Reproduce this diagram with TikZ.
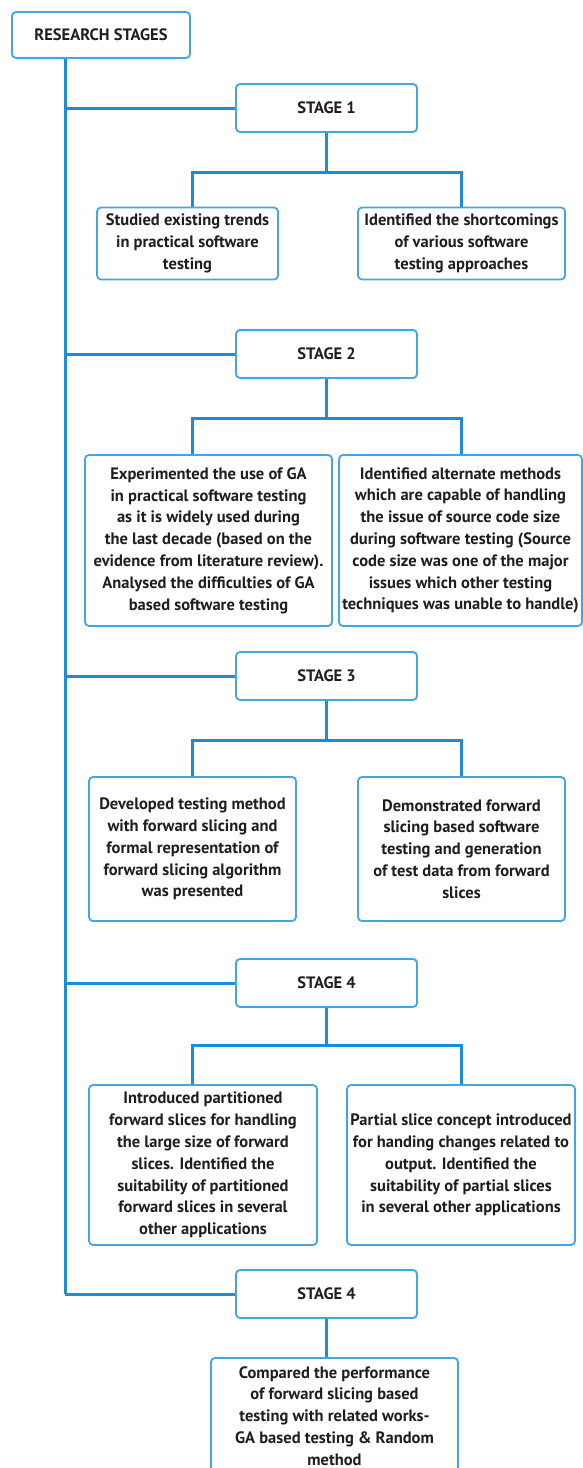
\documentclass[tikz,border=0pt]{standalone}
\usepackage{fontspec}
\setmainfont{PT Sans}
\definecolor{linkblue}{HTML}{1A8CD8}
\definecolor{boxblue}{HTML}{45A5E0}
\definecolor{ink}{HTML}{1E1E1E}
\begin{document}
\begin{tikzpicture}[x=1pt,y=-1pt,
  box/.style={draw=boxblue,line width=1.8pt,rounded corners=4pt,fill=white,
    align=center,inner sep=0pt,text=ink,
    font=\fontsize{16.5}{21.8}\selectfont\bfseries},
  stagebox/.style={box,minimum width=181pt,minimum height=48pt},
  conn/.style={draw=linkblue,line width=3pt}]
\useasboundingbox (0,0) rectangle (583,1468);

% header and stage boxes
\node[box,minimum width=178pt,minimum height=46pt] (rs) at (101,35) {RESEARCH STAGES};
\node[stagebox] (s1) at (326.5,108) {STAGE 1};
\node[stagebox] (s2) at (326.5,354) {STAGE 2};
\node[stagebox] (s3) at (326.5,676) {STAGE 3};
\node[stagebox] (s4) at (326.5,983) {STAGE 4};
\node[stagebox] (s5) at (326.5,1294) {STAGE 4};

% stage 1 outcomes
\node[box,minimum width=181pt,minimum height=72pt] (b1a) at (187.5,243.5)
  {Studied existing trends\\in practical software\\testing};
\node[box,minimum width=207pt,minimum height=72pt] (b1b) at (461.5,243.5)
  {Identified the shortcomings\\of various software\\testing approaches};

% stage 2 outcomes
\node[box,minimum width=247pt,minimum height=171pt] (b2a) at (208.5,540.5)
  {Experimented the use of GA\\in practical software testing\\as it is widely used during\\the last decade (based on the\\evidence from literature review).\\Analysed the difficulties of GA\\based software testing};
\node[box,minimum width=243pt,minimum height=171pt] (b2b) at (460.5,540.5)
  {Identified alternate methods\\which are capable of handling\\the issue of source code size\\during software testing (Source\\code size was one of the major\\issues which other testing\\techniques was unable to handle)};

% stage 3 outcomes
\node[box,minimum width=207pt,minimum height=144pt] (b3a) at (192.5,849)
  {Developed testing method\\with forward slicing and\\formal representation of\\forward slicing algorithm\\was presented};
\node[box,minimum width=207pt,minimum height=144pt] (b3b) at (461.5,849)
  {Demonstrated forward\\slicing based software\\testing and generation\\of test data from forward\\slices};

% stage 4 outcomes
\node[box,minimum width=228pt,minimum height=160pt] (b4a) at (203,1165)
  {Introduced partitioned\\forward slices for handling\\the large size of forward\\slices. Identified the\\suitability of partitioned\\forward slices in several\\other applications};
\node[box,minimum width=228pt,minimum height=160pt] (b4b) at (461,1165)
  {Partial slice concept introduced\\for handing changes related to\\output. Identified the\\suitability of partial slices\\in several other applications};

% final comparison (runs past the lower edge)
\node[box,minimum width=247pt,minimum height=116pt] (b5) at (334.5,1416)
  {Compared the performance\\of forward slicing based\\testing with related works-\\GA based testing \& Random\\method};

% trunk
\coordinate (tr) at (65,1294);
\draw[conn] (rs.south -| tr) -- (tr);
\foreach \s in {s1,s2,s3,s4,s5}
  \draw[conn] (\s.west -| tr) -- (\s.west);

% branch columns shared by all stages
\coordinate (lx) at (192,0);
\coordinate (rx) at (461,0);

% branches from each stage to its outcomes
\draw[conn] (s1.south) -- ++(0,40) coordinate (j1);
\draw[conn] (j1) -| (lx |- b1a.north);
\draw[conn] (j1) -| (rx |- b1b.north);
\draw[conn] (s2.south) -- ++(0,40) coordinate (j2);
\draw[conn] (j2) -| (lx |- b2a.north);
\draw[conn] (j2) -| (rx |- b2b.north);
\draw[conn] (s3.south) -- ++(0,40) coordinate (j3);
\draw[conn] (j3) -| (lx |- b3a.north);
\draw[conn] (j3) -| (rx |- b3b.north);
\draw[conn] (s4.south) -- ++(0,38) coordinate (j4);
\draw[conn] (j4) -| (lx |- b4a.north);
\draw[conn] (j4) -| (rx |- b4b.north);
\draw[conn] (s5.south) -- (s5.south |- b5.north);
\end{tikzpicture}
\end{document}
